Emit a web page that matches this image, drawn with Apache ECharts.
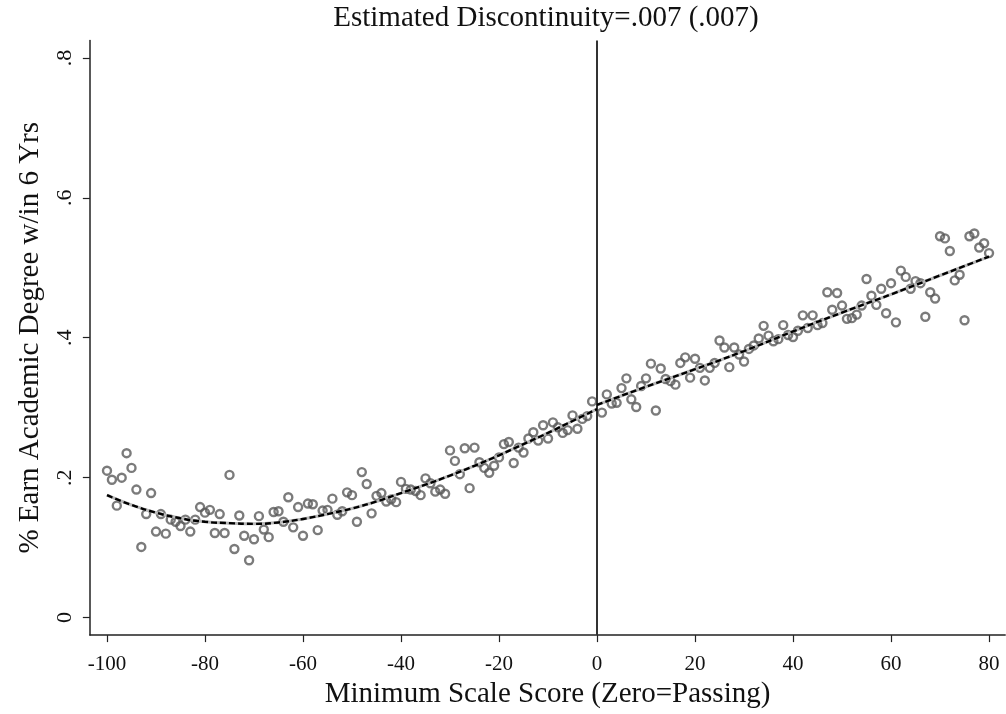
<!DOCTYPE html>
<html>
<head>
<meta charset="utf-8">
<script src="https://cdn.jsdelivr.net/npm/echarts@6/dist/echarts.min.js"></script>
<style>
html,body{margin:0;padding:0;background:#fff;}
#chart{width:1006px;height:714px;}
</style>
</head>
<body>
<div id="chart"></div>
<script>
// ---- data ----
const leftX = [-100,-99,-98,-97,-96,-95,-94,-93,-92,-91,-90,-89,-88,-87,-86,-85,-84,-83,-82,-81,
  -80,-79,-78,-77,-76,-75,-74,-73,-72,-71,-70,-69,-68,-67,-66,-65,-64,-63,-62,-61,
  -60,-59,-58,-57,-56,-55,-54,-53,-52,-51,-50,-49,-48,-47,-46,-45,-44,-43,-42,-41,
  -40,-39,-38,-37,-36,-35,-34,-33,-32,-31,-30,-29,-28,-27,-26,-25,-24,-23,-22,-21,
  -20,-19,-18,-17,-16,-15,-14,-13,-12,-11,-10,-9,-8,-7,-6,-5,-4,-3,-2,-1];
const leftY = [.210,.197,.160,.200,.235,.214,.183,.101,.148,.178,.123,.148,.120,.140,.137,.131,.140,.123,.140,.158,
  .150,.154,.121,.148,.121,.204,.098,.146,.117,.082,.112,.145,.126,.115,.151,.152,.137,.172,.129,.158,
  .117,.163,.162,.125,.153,.154,.170,.147,.152,.179,.175,.137,.208,.191,.149,.174,.178,.166,.169,.165,
  .194,.184,.183,.181,.175,.199,.192,.180,.183,.177,.239,.224,.205,.242,.185,.243,.222,.214,.207,.217,
  .229,.248,.251,.221,.243,.236,.256,.265,.253,.275,.256,.279,.272,.264,.268,.289,.270,.284,.288,.309];
const rightX = [1,2,3,4,5,6,7,8,9,10,11,12,13,14,15,16,17,18,19,20,
  21,22,23,24,25,26,27,28,29,30,31,32,33,34,35,36,37,38,39,40,
  41,42,43,44,45,46,47,48,49,50,51,52,53,54,55,56,57,58,59,60,
  61,62,63,64,65,66,67,68,69,70,71,72,73,74,75,76,77,78,79,80];
const rightY = [.293,.319,.306,.307,.328,.342,.312,.301,.331,.342,.363,.296,.356,.341,.338,.333,.364,.372,.343,.370,
  .357,.339,.357,.364,.396,.386,.358,.386,.376,.366,.384,.389,.399,.417,.403,.395,.398,.418,.404,.401,
  .410,.432,.414,.432,.418,.421,.465,.440,.464,.446,.427,.428,.433,.446,.484,.460,.447,.470,.435,.478,
  .422,.496,.487,.470,.481,.478,.430,.465,.456,.545,.542,.524,.482,.490,.425,.545,.549,.529,.535,.521];
// fitted curves
const leftFitX = [-100,-95,-90,-85,-80,-75,-70,-65,-60,-55,-50,-45,-40,-35,-30,-25,-20,-15,-10,-5,0];
const leftFitY = [.175,.161,.150,.142,.137,.135,.134,.136,.141,.148,.156,.166,.178,.190,.203,.217,.232,.248,.264,.281,.298];
const rightFitX = [0,10,20,30,40,50,60,70,80];
const rightFitY = [.304,.330,.355,.381,.409,.436,.462,.489,.516];
const xTicks = [-100,-80,-60,-40,-20,0,20,40,60,80];
const yTicks = [0,0.2,0.4,0.6,0.8];
const cutoff = 0;
const titleText = 'Estimated Discontinuity=.007 (.007)';
const xTitle = 'Minimum Scale Score (Zero=Passing)';
const yTitle = '% Earn Academic Degree w/in 6 Yrs';

const zip = (a, b) => a.map((v, i) => [v, b[i]]);
const FONT = '"Liberation Serif","DejaVu Serif",serif';

const chart = echarts.init(document.getElementById('chart'), null, {renderer: 'canvas'});
const scatterStyle = {
  type: 'scatter', symbol: 'circle', symbolSize: 8,
  itemStyle: {color: 'rgba(0,0,0,0)', borderColor: '#5a5a5a', borderWidth: 2.4},
  z: 3, silent: true
};
const fitUnder = {type: 'line', showSymbol: false, smooth: true,
  lineStyle: {color: '#b8b8b8', width: 3}, z: 4, silent: true};
const fitOver = {type: 'line', showSymbol: false, smooth: true,
  lineStyle: {color: '#000', width: 2.4, type: [6, 3]}, z: 5, silent: true};

chart.setOption({
  animation: false,
  backgroundColor: '#fff',
  grid: {left: 89.85, right: 0.8, top: 40.4, bottom: 76.4, containLabel: false},
  graphic: [{
    type: 'text', x: 546, y: 4,
    style: {text: titleText, font: '29px ' + FONT, fill: '#111', textAlign: 'center', textVerticalAlign: 'top'}
  }],
  xAxis: {
    type: 'value', min: -103.5, max: 83.3,
    axisLine: {show: true, onZero: false, lineStyle: {color: '#222', width: 1.5}},
    axisTick: {show: true, customValues: xTicks, length: 7, lineStyle: {color: '#222', width: 1.2}},
    axisLabel: {customValues: xTicks, fontSize: 21, fontFamily: FONT, color: '#111', margin: 19},
    splitLine: {show: false},
    name: xTitle, nameLocation: 'middle', nameGap: 40,
    nameTextStyle: {fontSize: 29, fontFamily: FONT, color: '#111'}
  },
  yAxis: {
    type: 'value', min: -0.025, max: 0.825,
    axisLine: {show: true, onZero: false, lineStyle: {color: '#222', width: 1.5}},
    axisTick: {show: true, customValues: yTicks, length: 7, lineStyle: {color: '#222', width: 1.2}},
    axisLabel: {customValues: yTicks, rotate: 90, fontSize: 22, fontFamily: FONT, color: '#111', margin: 14,
      formatter: v => (v === 0 ? '0' : String(+v.toFixed(1)).replace(/^0/, ''))},
    splitLine: {show: false},
    name: yTitle, nameLocation: 'middle', nameGap: 45, nameRotate: 90,
    nameTextStyle: {fontSize: 29, fontFamily: FONT, color: '#111'}
  },
  series: [
    Object.assign({}, scatterStyle, {name: 'left', data: zip(leftX, leftY),
      markLine: {silent: true, symbol: ['none', 'none'], label: {show: false},
        lineStyle: {color: '#333', width: 2, type: 'solid'}, data: [{xAxis: cutoff}]}}),
    Object.assign({}, scatterStyle, {name: 'right', data: zip(rightX, rightY)}),
    Object.assign({}, fitUnder, {data: zip(leftFitX, leftFitY)}),
    Object.assign({}, fitOver, {data: zip(leftFitX, leftFitY)}),
    Object.assign({}, fitUnder, {data: zip(rightFitX, rightFitY)}),
    Object.assign({}, fitOver, {data: zip(rightFitX, rightFitY)})
  ]
});
</script>
</body>
</html>
